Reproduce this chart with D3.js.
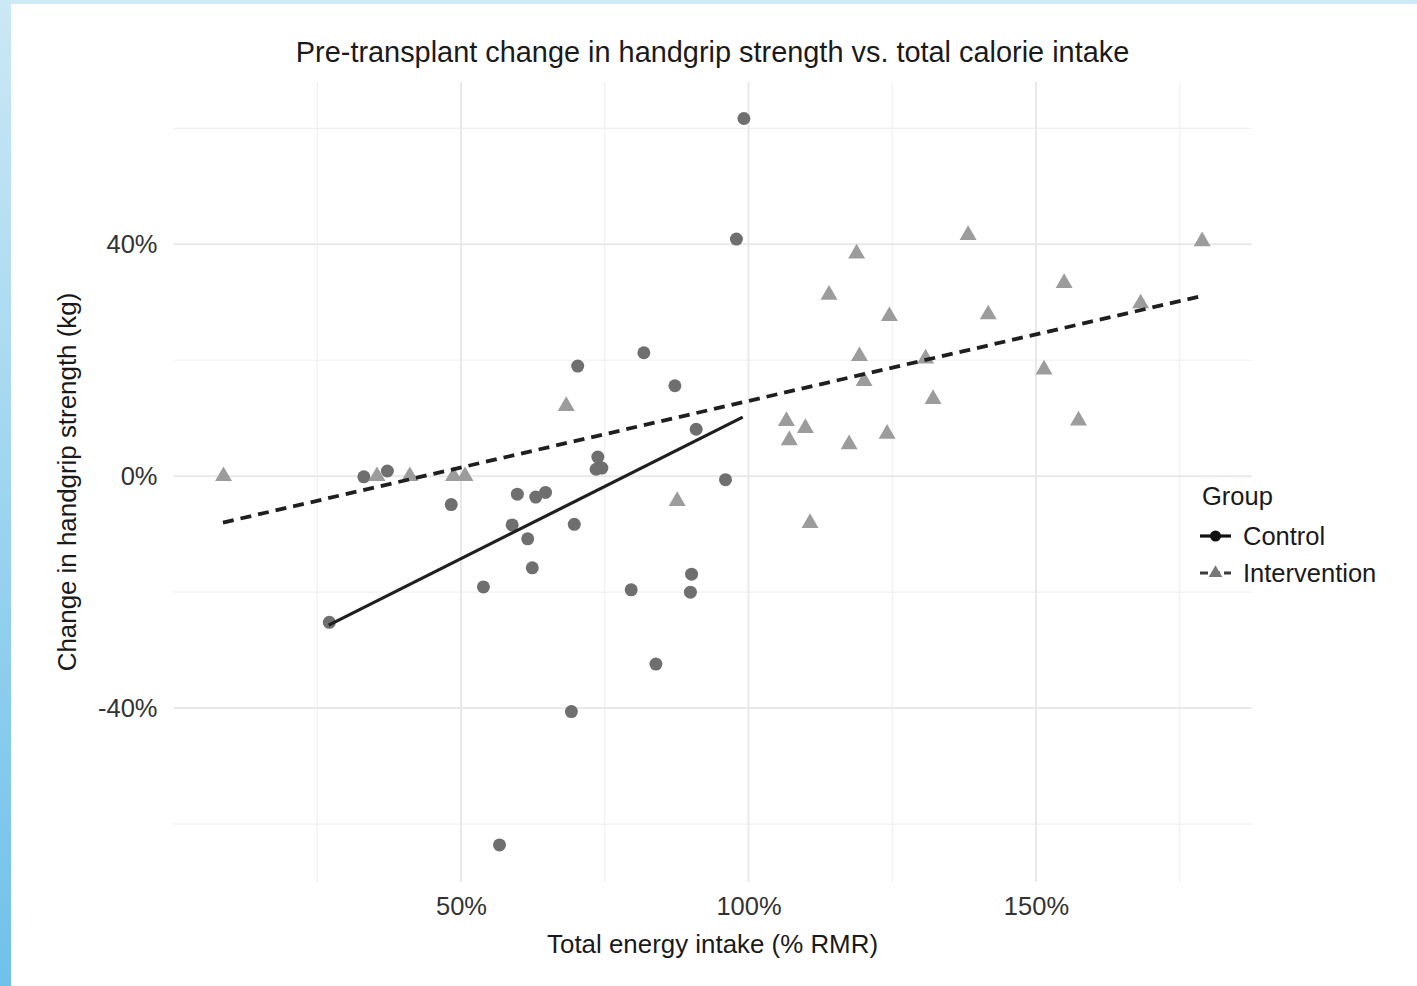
<!DOCTYPE html>
<html>
<head>
<meta charset="utf-8">
<script src="https://cdn.jsdelivr.net/npm/d3@7"></script>
<style>
  body { margin: 0; background: #fff; }
  text { font-family: "Liberation Sans", Arial, sans-serif; }
</style>
</head>
<body>
<div id="chart"></div>
<script>
// data: energy intake (% RMR) vs change in grip strength (%)
const controlX = [99.2, 97.9, 81.8, 70.3, 87.2, 90.9, 73.8, 73.5, 74.5, 33.1, 37.2, 96.0, 48.3, 59.8,
  64.7, 63.0, 58.9, 69.7, 61.6, 62.4, 53.9, 79.6, 90.1, 89.9, 27.1, 83.9, 69.2, 56.7];
const controlY = [61.7, 40.9, 21.3, 19.0, 15.6, 8.1, 3.3, 1.2, 1.4, -0.1, 0.9, -0.6, -4.9, -3.1,
  -2.8, -3.6, -8.4, -8.3, -10.8, -15.8, -19.1, -19.6, -16.9, -20.0, -25.2, -32.4, -40.6, -63.6];
const interventionX = [8.7, 35.4, 41.1, 48.7, 50.7, 68.3, 87.6, 106.6, 107.1, 109.9, 110.7, 114.0,
  118.8, 119.3, 120.1, 117.5, 124.5, 124.1, 130.8, 132.1, 138.2, 141.7, 151.4, 154.9, 157.4, 168.2, 178.9];
const interventionY = [0, 0, 0, 0, 0, 12.1, -4.3, 9.5, 6.2, 8.3, -8.1, 31.3,
  38.4, 20.7, 16.4, 5.5, 27.6, 7.3, 20.3, 13.3, 41.6, 27.9, 18.4, 33.3, 9.6, 29.8, 40.5];
// fitted lines (end points)
const controlFit = [[27.0, -25.7], [99.0, 10.2]];
const interventionFit = [[8.6, -8.0], [178.9, 31.1]];

const xMajor = [50, 100, 150], xMinor = [25, 75, 125, 175];
const yMajor = [-40, 0, 40], yMinor = [-60, -20, 20, 60];
const groups = ["Control", "Intervention"];

const W = 1417, H = 986;
const svg = d3.select("#chart").append("svg").attr("width", W).attr("height", H);

// page frame (light blue bands)
const grad = svg.append("defs").append("linearGradient")
    .attr("id", "side").attr("x1", 0).attr("y1", 0).attr("x2", 0).attr("y2", 1);
grad.append("stop").attr("offset", "0%").attr("stop-color", "#cbe8f5");
grad.append("stop").attr("offset", "100%").attr("stop-color", "#70c1ea");
svg.append("rect").attr("width", W).attr("height", 4).attr("fill", "#cde9f6");
svg.append("rect").attr("width", 11).attr("height", H).attr("fill", "url(#side)");

const x = d3.scaleLinear().domain([0, 187.5]).range([173.5, 1251.6]);
const y = d3.scaleLinear().domain([-70, 68]).range([882, 82]);
const [x0, x1] = x.range(), [y0, y1] = y.range();

const grid = svg.append("g");
grid.selectAll(".vmin").data(xMinor).enter().append("line")
  .attr("x1", d => x(d)).attr("x2", d => x(d)).attr("y1", y1).attr("y2", y0)
  .attr("stroke", "#f0f0f0").attr("stroke-width", 1.2);
grid.selectAll(".hmin").data(yMinor).enter().append("line")
  .attr("y1", d => y(d)).attr("y2", d => y(d)).attr("x1", x0).attr("x2", x1)
  .attr("stroke", "#f0f0f0").attr("stroke-width", 1.2);
grid.selectAll(".vmaj").data(xMajor).enter().append("line")
  .attr("x1", d => x(d)).attr("x2", d => x(d)).attr("y1", y1).attr("y2", y0)
  .attr("stroke", "#e9e9e9").attr("stroke-width", 2);
grid.selectAll(".hmaj").data(yMajor).enter().append("line")
  .attr("y1", d => y(d)).attr("y2", d => y(d)).attr("x1", x0).attr("x2", x1)
  .attr("stroke", "#e9e9e9").attr("stroke-width", 2);

// axes (text only, like theme_minimal)
const xAxis = svg.append("g").attr("transform", "translate(0," + (y0 + 12) + ")")
  .call(d3.axisBottom(x).tickValues(xMajor).tickFormat(d => d + "%").tickSize(0));
const yAxis = svg.append("g").attr("transform", "translate(" + (x0 - 13) + ",0)")
  .call(d3.axisLeft(y).tickValues(yMajor).tickFormat(d => d + "%").tickSize(0));
[xAxis, yAxis].forEach(a => {
  a.select(".domain").remove();
  a.selectAll("text").attr("fill", "#333").style("font-size", "25.5px")
    .style("font-family", "Liberation Sans, Arial, sans-serif");
});
xAxis.selectAll("text").attr("dy", "0.71em");

// points
const ctrl = controlX.map((d, i) => ({x: d, y: controlY[i]}));
const intv = interventionX.map((d, i) => ({x: d, y: interventionY[i]}));
svg.append("g").selectAll("circle").data(ctrl).enter().append("circle")
  .attr("cx", d => x(d.x)).attr("cy", d => y(d.y)).attr("r", 6.5)
  .attr("fill", "#6f6f6f");
const tri = d3.symbol().type(d3.symbolTriangle).size(125);
svg.append("g").selectAll("path").data(intv).enter().append("path")
  .attr("d", tri).attr("transform", d => "translate(" + x(d.x) + "," + y(d.y) + ")")
  .attr("fill", "#9c9c9c");

// fitted lines
const line = d3.line().x(d => x(d[0])).y(d => y(d[1]));
svg.append("path").attr("d", line(controlFit)).attr("fill", "none")
  .attr("stroke", "#1f1f1f").attr("stroke-width", 3.2);
svg.append("path").attr("d", line(interventionFit)).attr("fill", "none")
  .attr("stroke", "#1f1f1f").attr("stroke-width", 3.8).attr("stroke-dasharray", "11 7");

// titles
svg.append("text").attr("x", (x0 + x1) / 2).attr("y", 52).attr("dy", "0.35em")
  .attr("text-anchor", "middle").style("font-size", "28.9px").attr("fill", "#1a1a1a")
  .text("Pre-transplant change in handgrip strength vs. total calorie intake");
svg.append("text").attr("x", (x0 + x1) / 2).attr("y", 944).attr("dy", "0.35em")
  .attr("text-anchor", "middle").style("font-size", "25.9px").attr("fill", "#1a1a1a")
  .text("Total energy intake (% RMR)");
svg.append("text").attr("transform", "translate(67," + ((y0 + y1) / 2) + ") rotate(-90)")
  .attr("dy", "0.35em").attr("text-anchor", "middle").style("font-size", "25.9px")
  .attr("fill", "#1a1a1a").text("Change in handgrip strength (kg)");

// legend
const lg = svg.append("g").attr("transform", "translate(1200,496)");
lg.append("text").attr("x", 2).attr("y", 0).attr("dy", "0.35em")
  .style("font-size", "25.5px").attr("fill", "#1a1a1a").text("Group");
groups.forEach((g, i) => {
  const gy = 40 + i * 37;
  lg.append("line").attr("x1", 0).attr("x2", 31).attr("y1", gy).attr("y2", gy)
    .attr("stroke", i ? "#3a3a3a" : "#111").attr("stroke-width", 3.2)
    .attr("stroke-dasharray", i ? "8 4" : null);
  if (i === 0) lg.append("circle").attr("cx", 15.5).attr("cy", gy).attr("r", 5.5).attr("fill", "#111");
  else lg.append("path").attr("d", d3.symbol().type(d3.symbolTriangle).size(80))
    .attr("transform", "translate(15.5," + gy + ")").attr("fill", "#777");
  lg.append("text").attr("x", 43).attr("y", gy).attr("dy", "0.35em")
    .style("font-size", "25.5px").attr("fill", "#1a1a1a").text(g);
});
</script>
</body>
</html>
